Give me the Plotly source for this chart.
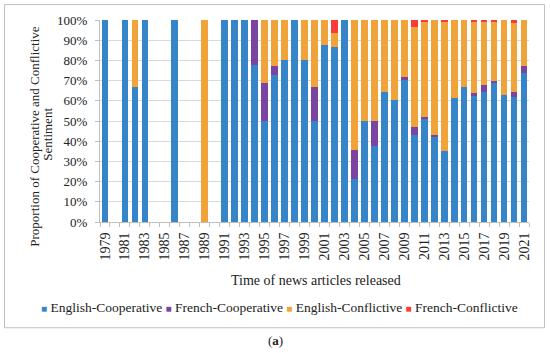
import plotly.graph_objects as go

years = list(range(1979, 2022))

english_cooperative = [100, 0, 100, 66.7, 100, 0, 0, 100, 0, 0, 0, 0, 100, 100, 100, 77.8, 50, 72.7, 80, 100,
                       80, 50, 87.5, 86.7, 100, 21.4, 50, 37.5, 64.6, 60.5, 70.4, 42.9, 51.0, 42.4, 35.0, 61.5,
                       66.6, 62.5, 64.6, 69.0, 62.8, 62.1, 74.0]
french_cooperative = [0, 0, 0, 0, 0, 0, 0, 0, 0, 0, 0, 0, 0, 0, 0, 22.2, 18.75, 4.5, 0, 0,
                      0, 16.7, 0, 0, 0, 14.1, 0, 12.5, 0, 0, 1.6, 4.1, 0.8, 0.5, 0, 0,
                      0, 1.3, 3.3, 0.7, 0, 2.3, 3.4]
english_conflictive = [0, 0, 0, 33.3, 0, 0, 0, 0, 0, 0, 100, 0, 0, 0, 0, 0, 31.25, 22.8, 20, 0,
                       20, 33.3, 12.5, 6.9, 0, 64.5, 50, 50, 35.4, 39.5, 28.0, 49.7, 47.0, 57.1, 64.0, 38.5,
                       33.4, 35.4, 31.1, 29.3, 37.2, 34.1, 22.6]
french_conflictive = [0, 0, 0, 0, 0, 0, 0, 0, 0, 0, 0, 0, 0, 0, 0, 0, 0, 0, 0, 0,
                      0, 0, 0, 6.4, 0, 0, 0, 0, 0, 0, 0, 3.3, 1.2, 0, 1.0, 0,
                      0, 0.8, 1.0, 1.0, 0, 1.5, 0]

tick_years = list(range(1979, 2022, 2))
tick_labels = [str(y) for y in tick_years]
y_ticks = list(range(0, 101, 10))
y_tick_labels = [f"{v}%" for v in y_ticks]

series = [
    ("English-Cooperative", english_cooperative, "#3585c8"),
    ("French-Cooperative", french_cooperative, "#7a44a0"),
    ("English-Conflictive", english_conflictive, "#f0a338"),
    ("French-Conflictive", french_conflictive, "#fb3a3a"),
]

FONT = "Liberation Serif"
TXT = "#222222"

fig = go.Figure()
for name, vals, col in series:
    fig.add_trace(go.Bar(x=years, y=vals, name=name, marker=dict(color=col, line=dict(width=0))))

# plot area pixels: x 100..529, y 20..222.5
L, R, T, B = 100, 529, 20, 222.5
W, H = 550, 353
def px(x):
    return (x - L) / (R - L)
def py(y):
    return (B - y) / (B - T)

fig.update_layout(
    width=W, height=H,
    margin=dict(l=L, r=W - R, t=T, b=H - B, autoexpand=False),
    paper_bgcolor="white", plot_bgcolor="white",
    barmode="stack", bargap=0.33,
    font=dict(family=FONT, size=13, color=TXT),
    showlegend=False,
    xaxis=dict(
        range=[1978.5, 2021.5], tickmode="array", tickvals=tick_years, ticktext=tick_labels,
        tickangle=-90, ticks="", showgrid=False, showline=True, linecolor="#bfbfbf", linewidth=1,
        tickfont=dict(family=FONT, size=14, color=TXT), ticklabelstandoff=4,
        minor=dict(ticks="outside", ticklen=4, tickcolor="#bfbfbf", tick0=1978.5, dtick=1, showgrid=False),
        zeroline=False,
    ),
    yaxis=dict(
        range=[0, 100], tickmode="array", tickvals=y_ticks, ticktext=y_tick_labels,
        ticks="outside", ticklen=4, tickcolor="#bfbfbf", showline=True, linecolor="#bfbfbf",
        showgrid=True, gridcolor="#d9d9d9", gridwidth=1, zeroline=False,
        tickfont=dict(family=FONT, size=13, color=TXT), ticklabelstandoff=5,
    ),
)

def note(text, x, y, size, angle=0):
    fig.add_annotation(text=text, textangle=angle, xref="paper", yref="paper",
                       x=px(x), y=py(y), xanchor="center", yanchor="middle", showarrow=False,
                       font=dict(family=FONT, size=size, color=TXT))

# y-axis title (two lines)
note("Proportion of Cooperative and Conflictive", 35, 137, 13, -90)
note("Sentiment", 48, 135, 13, -90)
note("Time of news articles released", 316, 281, 14)

# legend row
legend_text = " ".join(
    f"<span style='color:{col};font-size:10px'>■</span> {name}" for name, _, col in series
)
note(legend_text, 279, 308, 13.5)
note("(<b>a</b>)", 275, 341, 13)

fig.add_shape(type="rect", xref="paper", yref="paper",
              x0=px(4.5), x1=px(544.5), y0=py(328.5), y1=py(4.5),
              line=dict(color="#bfbfbf", width=1), fillcolor="rgba(0,0,0,0)", layer="below")

fig.write_html("out.html", config={"displayModeBar": False},
               post_script="document.body.style.margin='0';document.body.style.padding='0';")
